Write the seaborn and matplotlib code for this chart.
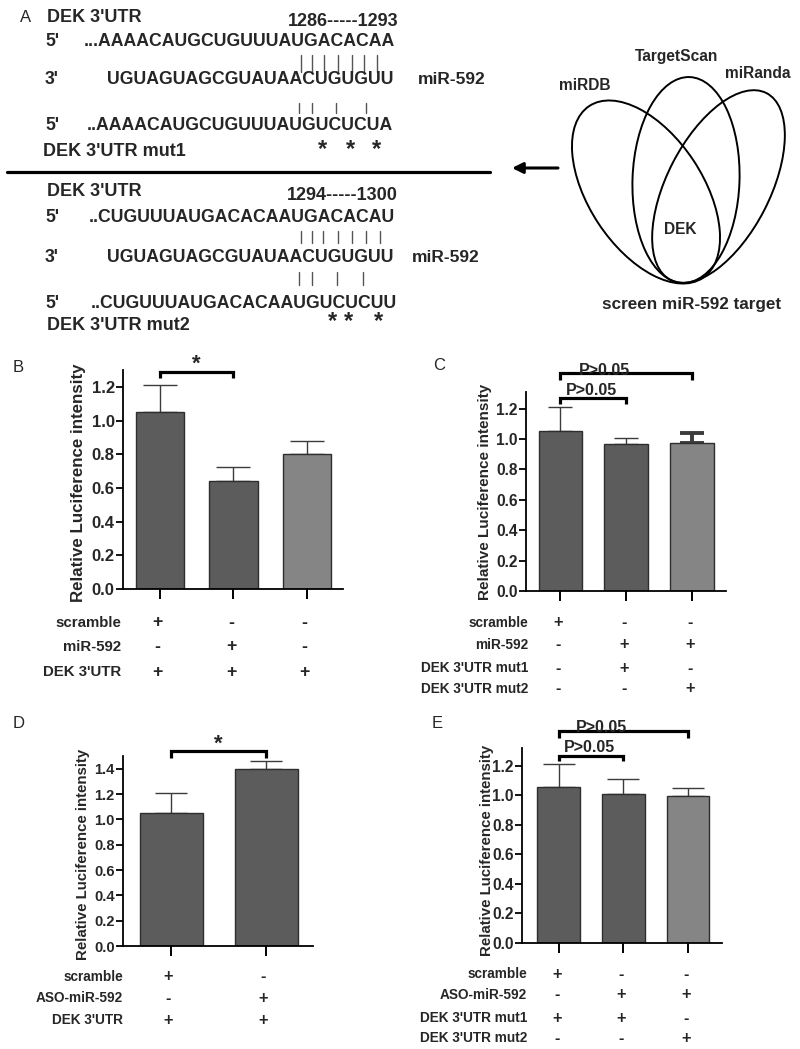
import numpy as np
import matplotlib
matplotlib.use("Agg")
import matplotlib.pyplot as plt
import seaborn as sns
from matplotlib.patches import Ellipse
from matplotlib.transforms import blended_transform_factory

# ---------------- data ----------------
b_conditions = ["scramble+DEK 3'UTR", "miR-592+DEK 3'UTR", "DEK 3'UTR"]
b_values = [1.05, 0.64, 0.80]
b_errors = [0.16, 0.085, 0.08]
b_rows = ["scramble", "miR-592", "DEK 3'UTR"]
b_signs = [["+", "-", "-"], ["-", "+", "-"], ["+", "+", "+"]]

c_conditions = ["scramble+DEK 3'UTR", "miR-592+mut1", "miR-592+mut2"]
c_values = [1.055, 0.97, 0.975]
c_errors = [0.155, 0.035, 0.065]
c_rows = ["scramble", "miR-592", "DEK 3'UTR mut1", "DEK 3'UTR mut2"]
c_signs = [["+", "-", "-"], ["-", "+", "+"], ["-", "+", "-"], ["-", "-", "+"]]

d_conditions = ["scramble+DEK 3'UTR", "ASO-miR-592+DEK 3'UTR"]
d_values = [1.05, 1.40]
d_errors = [0.16, 0.06]
d_rows = ["scramble", "ASO-miR-592", "DEK 3'UTR"]
d_signs = [["+", "-"], ["-", "+"], ["+", "+"]]

e_conditions = ["scramble+mut1", "ASO-miR-592+mut1", "ASO-miR-592+mut2"]
e_values = [1.055, 1.012, 0.995]
e_errors = [0.155, 0.095, 0.055]
e_rows = ["scramble", "ASO-miR-592", "DEK 3'UTR mut1", "DEK 3'UTR mut2"]
e_signs = [["+", "-", "-"], ["-", "+", "+"], ["+", "+", "-"], ["-", "-", "+"]]

DARK = "#5c5c5c"
LIGHT = "#858585"

# ---------------- setup ----------------
sns.set_style("ticks")
plt.rcParams["font.family"] = ["Liberation Sans", "DejaVu Sans"]
plt.rcParams["axes.linewidth"] = 1.3

W, H = 800, 1049
fig = plt.figure(figsize=(W / 100, H / 100), dpi=100)

ov = fig.add_axes([0, 0, 1, 1])
ov.set_xlim(0, W)
ov.set_ylim(H, 0)
ov.axis("off")


def rect(l, t, r, b):
    return [l / W, 1 - b / H, (r - l) / W, (b - t) / H]


def bar_panel(box, conds, vals, errs, colors, ylim, xlim, yticks, capsize,
              err_lw, tick_fs):
    ax = fig.add_axes(rect(*box))
    sns.barplot(x=conds, y=vals, hue=conds, palette=colors, legend=False,
                errorbar=None, saturation=1, width=0.66, edgecolor="#2e2e2e",
                linewidth=1.0, ax=ax, zorder=2)
    for i, (v, e) in enumerate(zip(vals, errs)):
        ax.errorbar(i, v, yerr=[[0], [e]], fmt="none", ecolor="#3c3c3c",
                    elinewidth=err_lw[i], capsize=capsize, capthick=err_lw[i],
                    zorder=1, clip_on=False)
    ax.set_ylim(*ylim)
    ax.set_xlim(*xlim)
    ax.set_yticks(yticks)
    ax.set_yticklabels([f"{t:.1f}" for t in yticks], fontweight="bold",
                       fontsize=tick_fs)
    ax.set_xticks(range(len(conds)))
    ax.tick_params(axis="x", labelbottom=False, length=7, width=1.4,
                   direction="out", color="black")
    ax.tick_params(axis="y", length=5, width=1.3, direction="out",
                   color="black", pad=1)
    ax.set_xlabel("")
    ax.set_ylabel("")
    sns.despine(ax=ax)
    for s in ("left", "bottom"):
        ax.spines[s].set_color("black")
    ax.set_facecolor("none")
    return ax


def rows_table(ax, rows, signs, ys, right_x, fs):
    tr = blended_transform_factory(ax.transData, ov.transData)
    for r, sg, y in zip(rows, signs, ys):
        ov.text(right_x, y, r, ha="right", va="center", fontsize=fs,
                fontweight="bold")
        for i, s in enumerate(sg):
            ax.text(i - 0.03, y, s, transform=tr, ha="center", va="center",
                    fontsize=fs + 2, fontweight="bold", clip_on=False)


def bracket(ax, x0, x1, y, ydrop, text, tx, ty, fs, va="bottom"):
    ax.plot([x0, x0, x1, x1], [ydrop, y, y, ydrop], color="black", lw=2.3,
            clip_on=False, solid_joinstyle="miter", solid_capstyle="butt")
    ax.text(tx, ty, text, ha="center", va=va, fontsize=fs, fontweight="bold",
            clip_on=False)


YLAB = "Relative Luciference intensity"

# ---------------- panel B ----------------
axB = bar_panel((123, 370, 343, 589), b_conditions, b_values, b_errors,
                [DARK, DARK, LIGHT], (0, 1.30), (-0.5, 2.49),
                [0, 0.2, 0.4, 0.6, 0.8, 1.0, 1.2], 12.5, [1.0, 1.0, 1.0],
                12)
bracket(axB, 0, 1, 1.29, 1.254, "*", 0.5, 1.27, 16)
ov.text(79, 483, YLAB, rotation=90, ha="center", va="center", fontsize=12.2,
        fontweight="bold")
rows_table(axB, b_rows, b_signs, [623, 647, 672], 121, 10.8)

# ---------------- panel C ----------------
axC = bar_panel((526, 392, 726, 591), c_conditions, c_values, c_errors,
                [DARK, DARK, LIGHT], (0, 1.31), (-0.52, 2.52),
                [0, 0.2, 0.4, 0.6, 0.8, 1.0, 1.2], 8.6, [1.0, 1.0, 2.8],
                11.2)
bracket(axC, 0, 1, 1.268, 1.229, "P>0.05", 0.48, 1.272, 11.5)
bracket(axC, 0, 2, 1.432, 1.386, "P>0.05", 0.68, 1.405, 11.5)
ov.text(485, 492, YLAB, rotation=90, ha="center", va="center", fontsize=11,
        fontweight="bold")
rows_table(axC, c_rows, c_signs, [623, 645, 668, 689], 528, 9.8)

# ---------------- panel D ----------------
axD = bar_panel((123, 756, 313, 946), d_conditions, d_values, d_errors,
                [DARK, DARK], (0, 1.50), (-0.505, 1.49),
                [0, 0.2, 0.4, 0.6, 0.8, 1.0, 1.2, 1.4], 11.5, [1.0, 1.0],
                10.5)
bracket(axD, 0, 1, 1.537, 1.487, "*", 0.5, 1.51, 16)
ov.text(83, 854, YLAB, rotation=90, ha="center", va="center", fontsize=10.8,
        fontweight="bold")
rows_table(axD, d_rows, d_signs, [977, 998, 1020], 123, 9.8)

# ---------------- panel E ----------------
axE = bar_panel((522, 748, 722, 943), e_conditions, e_values, e_errors,
                [DARK, DARK, LIGHT], (0, 1.32), (-0.57, 2.53),
                [0, 0.2, 0.4, 0.6, 0.8, 1.0, 1.2], 11.2, [1.0, 1.0, 1.0],
                11.2)
bracket(axE, 0, 1, 1.266, 1.234, "P>0.05", 0.48, 1.275, 11.5)
bracket(axE, 0, 2, 1.437, 1.387, "P>0.05", 0.66, 1.41, 11.5)
ov.text(487, 850, YLAB, rotation=90, ha="center", va="center", fontsize=10.8,
        fontweight="bold")
rows_table(axE, e_rows, e_signs, [974, 995, 1018, 1038], 527, 9.8)

# ---------------- panel letters ----------------
for letter, (x, y) in zip("ABCDE", [(20, 17), (13, 367), (433, 365),
                                    (13, 724), (432, 724)]):
    ov.text(x, y, letter, ha="left", va="center", fontsize=12)

# ---------------- panel A: sequences ----------------
SEQ_FS = 12.7
seq_pos_1 = "...AAAACAUGCUGUUUAUGACACAA"
seq_mir = "UGUAGUAGCGUAUAACUGUGUU"
seq_mut1 = "..AAAACAUGCUGUUUAUGUCUCUA"
seq_pos_2 = "..CUGUUUAUGACACAAUGACACAU"
seq_mut2 = "..CUGUUUAUGACACAAUGUCUCUU"


def t(x, y, s, ha="left", fs=SEQ_FS, bold=True):
    ov.text(x, y, s, ha=ha, va="center", fontsize=fs,
            fontweight="bold" if bold else "normal")


def pair_lines(xs, y0, y1):
    for x in xs:
        ov.plot([x, x], [y0, y1], color="#555555", lw=1.0)


# block 1
t(47, 17, "DEK 3'UTR", fs=13)
t(343, 21, "1286-----1293", ha="center", fs=13)
t(45, 42, "5'")
t(395, 42, seq_pos_1, ha="right")
pair_lines([301, 312, 324, 338, 352, 364, 377], 55, 72)
t(45, 80, "3'")
t(393, 80, seq_mir, ha="right")
t(418, 80, "miR-592", fs=12.5)
pair_lines([299, 312, 336, 366], 103, 113)
t(45, 126, "5'")
t(393, 126, seq_mut1, ha="right")
for x in [323, 351, 377]:
    ov.text(x, 150, "*", ha="center", va="center", fontsize=17,
            fontweight="bold")
t(43, 152, "DEK 3'UTR mut1", fs=13)

ov.plot([7, 490], [172, 172], color="black", lw=2.3)

# block 2
t(47, 192, "DEK 3'UTR", fs=13)
t(342, 195, "1294-----1300", ha="center", fs=13)
t(45, 217, "5'")
t(395, 217, seq_pos_2, ha="right")
pair_lines([301, 312, 323, 338, 352, 366, 380], 231, 243)
t(45, 258, "3'")
t(393, 258, seq_mir, ha="right")
t(412, 257, "miR-592", fs=12.5)
pair_lines([299, 312, 337, 363], 272, 285)
t(45, 303, "5'")
t(397, 303, seq_mut2, ha="right")
for x in [333, 349, 378]:
    ov.text(x, 322, "*", ha="center", va="center", fontsize=17,
            fontweight="bold")
t(47, 325, "DEK 3'UTR mut2", fs=13)

# ---------------- panel A: venn of target predictions ----------------
venn_sets = ["miRDB", "TargetScan", "miRanda"]
ell_geom = [((646, 192), 114, 206, -33.4),
            ((686, 180), 107, 206, 2.0),
            ((718.5, 186.5), 103, 210, 27.2)]
for (c, w, h, a) in ell_geom:
    ov.add_patch(Ellipse(c, w, h, angle=a, fill=False, edgecolor="black",
                         lw=1.4))
for name, (x, y) in zip(venn_sets, [(585, 85), (677, 57), (758, 73)]):
    ov.text(x, y, name, ha="center", va="center", fontsize=11.2,
            fontweight="bold")
ov.text(680, 230, "DEK", ha="center", va="center", fontsize=11.2,
        fontweight="bold")
ov.text(692, 305, "screen miR-592 target", ha="center", va="center",
        fontsize=12.3, fontweight="bold")
ov.annotate("", xy=(512, 168), xytext=(558, 168),
            arrowprops=dict(arrowstyle="-|>", lw=2.2, color="black",
                            mutation_scale=16, shrinkA=0, shrinkB=0))

fig.savefig("out.png", dpi=100, facecolor="white")
